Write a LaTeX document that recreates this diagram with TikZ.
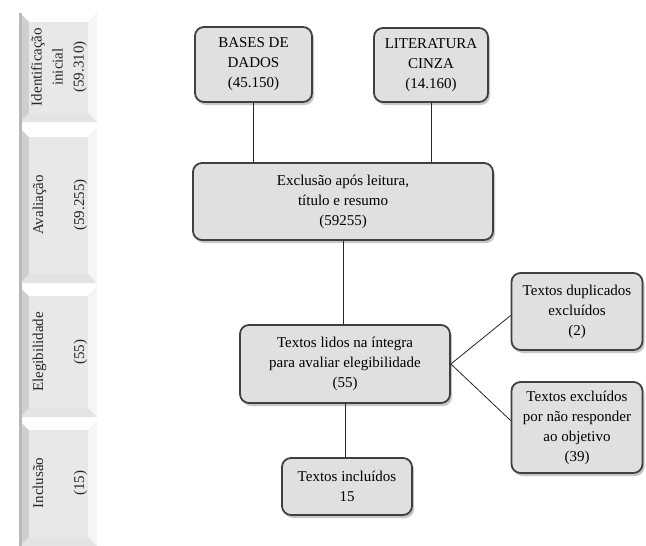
\documentclass[tikz,border=0pt]{standalone}
\usepackage{fontspec}
\setmainfont{Liberation Serif}
\usetikzlibrary{shadows}
\newcommand\bvbox[4]{%
  \fill[gray!38] (#1,#2) rectangle (#3,#4);
  \fill[white] (#1,#2) -- (#3,#2) -- (#3-9,#2+9) -- (#1+9,#2+9) -- cycle;
  \fill[gray!22] (#1,#4) -- (#3,#4) -- (#3-9,#4-9) -- (#1+9,#4-9) -- cycle;
  \fill[gray!8] (#3,#2) -- (#3,#4) -- (#3-9,#4-9) -- (#3-9,#2+9) -- cycle;
  \fill[gray!18] (#1+9,#2+9) rectangle (#3-9,#4-9);
}
\begin{document}
\begin{tikzpicture}[x=1pt,y=-1pt,
  mbox/.style={draw=black!75, line width=1.8pt, rounded corners=9pt, fill=gray!24,
    align=center, font=\fontsize{15}{20}\selectfont, inner sep=2pt,
    drop shadow={opacity=0.45, shadow xshift=2pt, shadow yshift=-3pt}},
  conn/.style={draw=black!85, line width=0.8pt},
  stagetxt/.style={rotate=90, align=center, font=\fontsize{15}{21}\selectfont, text=black!85}]
\useasboundingbox (0,0) rectangle (646,546);
% left stage column
\bvbox{20}{13}{97}{122}
\bvbox{20}{128}{97}{283}
\bvbox{20}{287}{97}{417}
\bvbox{20}{421}{97}{546}
\fill[gray!55] (19,13) rectangle (22,546);
\node[stagetxt] (s1) at (59,67) {Identificação\\inicial\\(59.310)};
\node[stagetxt] (s2) at (60,205) {Avaliação\\[20pt](59.255)};
\node[stagetxt] (s3) at (60,352) {Elegibilidade\\[20pt](55)};
\node[stagetxt] (s4) at (60,483) {Inclusão\\[20pt](15)};
% flow boxes
\node[mbox, minimum width=117pt, minimum height=75pt] (bases) at (253.5,64.5) {BASES DE\\DADOS\\(45.150)};
\node[mbox, minimum width=114pt, minimum height=74pt] (lit) at (431,65) {LITERATURA\\CINZA\\(14.160)};
\node[mbox, minimum width=300pt, minimum height=77pt] (excl) at (343,201.5) {Exclusão após leitura,\\título e resumo\\(59255)};
\node[mbox, minimum width=210pt, minimum height=78pt] (lidos) at (345,364) {Textos lidos na íntegra\\para avaliar elegibilidade\\(55)};
\node[mbox, minimum width=131pt, minimum height=77pt] (dup) at (577,311.5) {Textos duplicados\\excluídos\\(2)};
\node[mbox, minimum width=131pt, minimum height=91pt] (exc) at (577,427.5) {Textos excluídos\\por não responder\\ao objetivo\\(39)};
\node[mbox, minimum width=130pt, minimum height=57pt] (incl) at (347,486.5) {Textos incluídos\\15};
% connectors
\draw[conn] (bases.south) -- (bases.south |- excl.north);
\draw[conn] (lit.south) -- (lit.south |- excl.north);
\draw[conn] (excl.south) -- (excl.south |- lidos.north);
\draw[conn] (lidos.east) -- ([yshift=-4pt]dup.west);
\draw[conn] (lidos.east) -- ([yshift=7pt]exc.west);
\draw[conn] (lidos.south) -- (lidos.south |- incl.north);
\end{tikzpicture}
\end{document}
